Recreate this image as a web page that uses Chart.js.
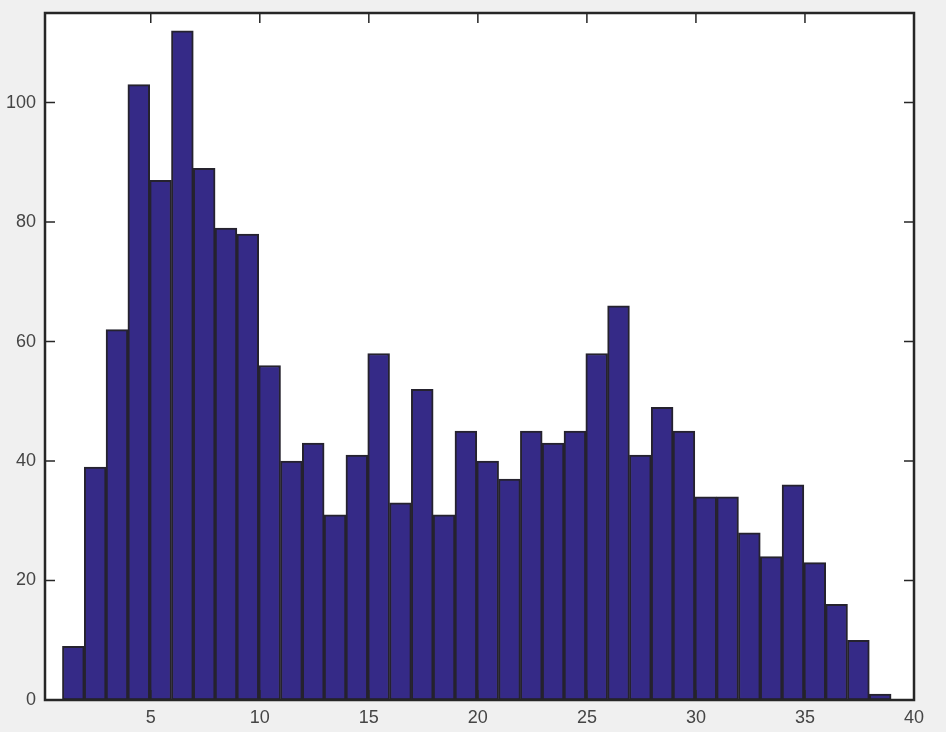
<!DOCTYPE html>
<html>
<head>
<meta charset="utf-8">
<script src="https://cdn.jsdelivr.net/npm/chart.js@4.4.1/dist/chart.umd.min.js"></script>
<style>
  html, body { margin: 0; padding: 0; background: #f0f0f0; }
  canvas { display: block; }
</style>
</head>
<body>
<canvas id="histChart" width="946" height="732"></canvas>
<script>
// bin centres and counts
const binCenters = [
    1.45, 2.45, 3.45, 4.45, 5.45, 6.45, 7.45, 8.45, 9.45, 10.45,
    11.45, 12.45, 13.45, 14.45, 15.45, 16.45, 17.45, 18.45, 19.45, 20.45,
    21.45, 22.45, 23.45, 24.45, 25.45, 26.45, 27.45, 28.45, 29.45, 30.45,
    31.45, 32.45, 33.45, 34.45, 35.45, 36.45, 37.45, 38.45
];
const counts = [
    9, 39, 62, 103, 87, 112, 89, 79, 78, 56,
    40, 43, 31, 41, 58, 33, 52, 31, 45, 40,
    37, 45, 43, 45, 58, 66, 41, 49, 45, 34,
    34, 28, 24, 36, 23, 16, 10, 1
];
const xTicks = [5, 10, 15, 20, 25, 30, 35, 40];
const yTicks = [0, 20, 40, 60, 80, 100];

// white axes background, box and inward tick marks like matlab
const axesBox = {
    id: 'axesBox',
    beforeDatasetsDraw(chart) {
        const { ctx, chartArea } = chart;
        ctx.save();
        ctx.fillStyle = '#ffffff';
        ctx.fillRect(chartArea.left, chartArea.top, chartArea.right - chartArea.left, chartArea.bottom - chartArea.top);
        ctx.restore();
    },
    afterDraw(chart) {
        const { ctx, chartArea, scales } = chart;
        const tickLen = 10;
        ctx.save();
        ctx.strokeStyle = '#262626';
        ctx.lineWidth = 1.5;
        ctx.beginPath();
        xTicks.forEach(v => {
            const px = scales.x.getPixelForValue(v);
            ctx.moveTo(px, chartArea.bottom);
            ctx.lineTo(px, chartArea.bottom - tickLen);
            ctx.moveTo(px, chartArea.top);
            ctx.lineTo(px, chartArea.top + tickLen);
        });
        yTicks.forEach(v => {
            const py = scales.y.getPixelForValue(v);
            ctx.moveTo(chartArea.left, py);
            ctx.lineTo(chartArea.left + tickLen, py);
            ctx.moveTo(chartArea.right, py);
            ctx.lineTo(chartArea.right - tickLen, py);
        });
        ctx.stroke();
        ctx.lineWidth = 2.5;
        ctx.strokeRect(chartArea.left, chartArea.top, chartArea.right - chartArea.left, chartArea.bottom - chartArea.top);
        ctx.restore();
    }
};

const ctx = document.getElementById('histChart').getContext('2d');
new Chart(ctx, {
    type: 'bar',
    data: {
        datasets: [{
            data: binCenters.map((c, i) => ({ x: c, y: counts[i] })),
            backgroundColor: '#352a87',
            borderColor: '#25222e',
            borderWidth: 2,
            borderSkipped: false,
            barPercentage: 1.0,
            categoryPercentage: 1.0
        }]
    },
    options: {
        responsive: false,
        animation: false,
        layout: { padding: { top: 13, right: 32, left: 0, bottom: 0 } },
        plugins: {
            legend: { display: false },
            tooltip: { enabled: false }
        },
        scales: {
            x: {
                type: 'linear',
                offset: false,
                min: 0.15,
                max: 40,
                grid: { display: false, drawTicks: false },
                border: { display: false },
                afterBuildTicks: scale => { scale.ticks = xTicks.map(v => ({ value: v })); },
                afterFit: scale => { scale.height = 32; scale.paddingLeft = 0; scale.paddingRight = 0; },
                ticks: {
                    padding: 7,
                    maxRotation: 0,
                    color: '#454545',
                    font: { family: 'Liberation Sans', size: 18 }
                }
            },
            y: {
                min: 0,
                max: 115,
                grid: { display: false, drawTicks: false },
                border: { display: false },
                afterBuildTicks: scale => { scale.ticks = yTicks.map(v => ({ value: v })); },
                afterFit: scale => { scale.width = 45; scale.paddingTop = 0; scale.paddingBottom = 0; },
                ticks: {
                    padding: 9,
                    color: '#454545',
                    font: { family: 'Liberation Sans', size: 18 }
                }
            }
        }
    },
    plugins: [axesBox]
});
</script>
</body>
</html>
